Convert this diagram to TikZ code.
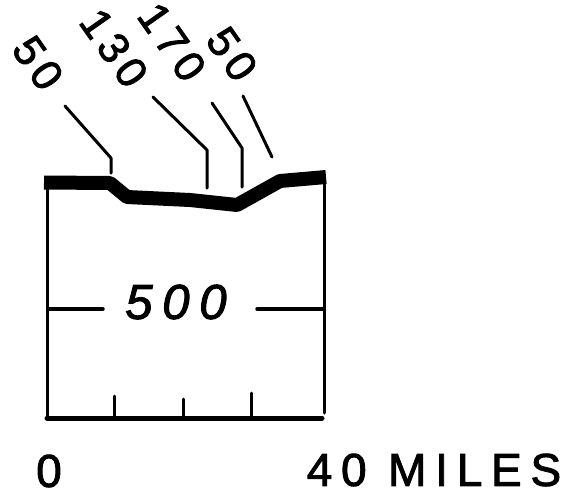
\documentclass[tikz,border=0pt]{standalone}
\usepackage{fontspec}
\setmainfont{Liberation Sans}
\begin{document}
\begin{tikzpicture}[x=1pt,y=-1pt,
  pen/.style={line width=3pt,line cap=round,line join=round},
  surface/.style={line width=14pt,line join=round,line cap=butt},
  depthlabel/.style={inner sep=0pt,rotate=-55,font=\fontsize{43}{43}\selectfont\addfontfeature{LetterSpace=14,FakeBold=2}},
  scalelabel/.style={inner sep=0pt,font=\fontsize{46}{46}\selectfont\addfontfeature{LetterSpace=19,FakeBold=2}}]
\useasboundingbox (0,0) rectangle (576,496);
% surface profile
\draw[surface] (44,182.5) -- (110,183) -- (127,197) -- (190,200) -- (237,205) -- (280,181) -- (326,177);
% box
\draw[pen] (47,189) -- (47,418);
\draw[line width=5pt,line cap=round] (47,418) -- (322,418);
\draw[pen] (324,183) -- (324,413);
% ticks
\draw[pen] (114,418) -- (114,396);
\draw[pen] (183,418) -- (183,399);
\draw[pen] (251,418) -- (251,393);
% 500 level line
\draw[line width=3.5pt,line cap=round] (48,309) -- (103,309);
\draw[line width=3.5pt,line cap=round] (257,309) -- (323,309);
\node[inner sep=0pt,font=\fontsize{49}{49}\selectfont\itshape\addfontfeature{LetterSpace=20,FakeBold=2}] (d500) at (176,302) {500};
% depth labels
\node[depthlabel] (l1) at (38,63) {50};
\node[depthlabel] (l2) at (114,48) {130};
\node[depthlabel] (l3) at (172,42) {170};
\node[depthlabel] (l4) at (232,54) {50};
% leaders
\coordinate (p1) at (111,173);
\coordinate (p2) at (207,188);
\coordinate (p3) at (242,187);
\coordinate (p4) at (272,157);
\draw[pen] (65,106) -- (111,158) -- (p1);
\draw[pen] (153,97) -- (207,150) -- (p2);
\draw[pen] (212,103) -- (242,148) -- (p3);
\draw[pen] (243,96) -- (p4);
% scale labels
\node[scalelabel] (s0) at (49,471) {0};
\node[scalelabel] (s40) at (434,470) {40 MILES};
\end{tikzpicture}
\end{document}
